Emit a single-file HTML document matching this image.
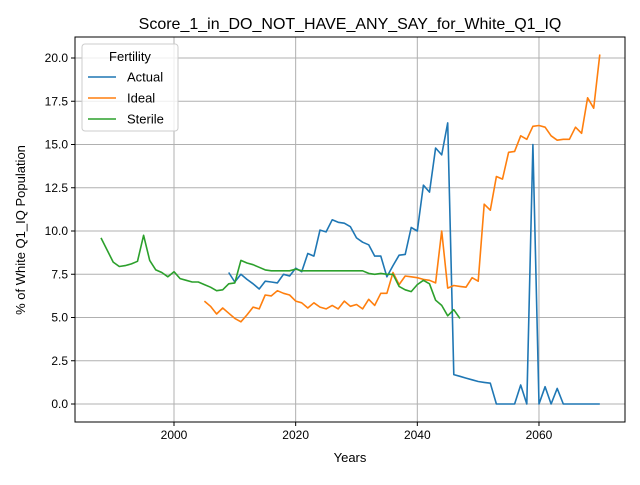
<!DOCTYPE html>
<html><head><meta charset="utf-8"><style>
body{margin:0;background:#fff;font-family:"Liberation Sans","DejaVu Sans",sans-serif}
</style></head><body>
<svg id="chart" width="640" height="480" xmlns="http://www.w3.org/2000/svg" font-family="Liberation Sans, DejaVu Sans, sans-serif"></svg>
<script>
const actualYears=[];for(let y=2009;y<=2070;y++)actualYears.push(y);
const actualValues=[7.6,7.05,7.5,7.2,6.95,6.65,7.1,7.05,7.0,7.5,7.4,7.85,7.65,8.7,8.55,10.05,9.95,10.65,10.5,10.45,10.25,9.6,9.35,9.2,8.55,8.55,7.35,8.0,8.6,8.65,10.2,10.0,12.65,12.25,14.8,14.4,16.25,1.7,1.6,1.5,1.4,1.3,1.25,1.2,0,0,0,0,1.1,0,15.0,0,1.0,0,0.9,0,0,0,0,0,0,0];
const idealYears=[];for(let y=2005;y<=2070;y++)idealYears.push(y);
const idealValues=[5.95,5.65,5.2,5.55,5.25,4.95,4.75,5.15,5.6,5.5,6.3,6.25,6.55,6.4,6.3,5.95,5.85,5.55,5.85,5.6,5.5,5.7,5.5,5.95,5.65,5.75,5.5,6.05,5.7,6.4,6.4,7.6,6.9,7.4,7.35,7.3,7.2,7.15,7.0,10.0,6.7,6.85,6.8,6.75,7.3,7.1,11.55,11.2,13.15,13.0,14.55,14.6,15.5,15.3,16.05,16.1,16.0,15.5,15.25,15.3,15.3,16.0,15.65,17.7,17.1,20.2];
const sterileYears=[];for(let y=1988;y<=2047;y++)sterileYears.push(y);
const sterileValues=[9.6,8.9,8.2,7.95,8.0,8.1,8.25,9.75,8.3,7.75,7.6,7.35,7.65,7.25,7.15,7.05,7.05,6.9,6.75,6.55,6.6,6.95,7.0,8.3,8.15,8.05,7.9,7.75,7.7,7.7,7.7,7.7,7.8,7.7,7.7,7.7,7.7,7.7,7.7,7.7,7.7,7.7,7.7,7.7,7.55,7.5,7.55,7.5,7.5,6.8,6.6,6.5,6.9,7.15,6.95,6.0,5.7,5.1,5.45,4.95];
const xTicks=[2000,2020,2040,2060];
const yTicks=[0,2.5,5,7.5,10,12.5,15,17.5,20];
const L=75,R=625,T=37,B=422;
const xs=v=>174+(v-2000)*6.083;
const ys=v=>404-v*17.3;
const svg=document.getElementById('chart');
const NS='http://www.w3.org/2000/svg';
function mk(tag,attrs,parent){const e=document.createElementNS(NS,tag);for(const k in attrs)e.setAttribute(k,attrs[k]);(parent||svg).appendChild(e);return e;}
const grid=mk('g',{});


xTicks.forEach(t=>{const x=xs(t);
mk('line',{x1:x,x2:x,y1:T,y2:B,stroke:'#b0b0b0','stroke-width':1},grid);
mk('line',{x1:x,x2:x,y1:B,y2:B+4,stroke:'#000'});
const tx=mk('text',{x:x,y:B+17,'text-anchor':'middle','font-size':12});tx.textContent=t;

});
yTicks.forEach(t=>{const y=ys(t);
mk('line',{x1:L,x2:R,y1:y,y2:y,stroke:'#b0b0b0','stroke-width':1},grid);
mk('line',{x1:L-4,x2:L,y1:y,y2:y,stroke:'#000'});
const tx=mk('text',{x:L-7,y:y+4,'text-anchor':'end','font-size':12});tx.textContent=t.toFixed(1);

});
function line(xsArr,vals,color,name){const d=xsArr.map((x,i)=>(i?'L':'M')+xs(x).toFixed(1)+','+ys(vals[i]).toFixed(1)).join('');
const p=mk('path',{d:d,fill:'none',stroke:color,'stroke-width':1.6,'stroke-linejoin':'round'});

}
line(actualYears,actualValues,'#1f77b4','actual-line');
line(idealYears,idealValues,'#ff7f0e','ideal-line');
line(sterileYears,sterileValues,'#2ca02c','sterile-line');
const frame=mk('rect',{x:L,y:T,width:R-L,height:B-T,fill:'none',stroke:'#000','stroke-width':1});


const title=mk('text',{x:350,y:29,'text-anchor':'middle','font-size':16});title.textContent='Score_1_in_DO_NOT_HAVE_ANY_SAY_for_White_Q1_IQ';


const xl=mk('text',{x:350,y:462,'text-anchor':'middle','font-size':13});xl.textContent='Years';


const yl=mk('text',{x:25,y:230,'text-anchor':'middle','font-size':13,transform:'rotate(-90 25 230)'});yl.textContent='% of White Q1_IQ Population';


const lg=mk('g',{});


mk('rect',{x:82,y:44,width:96,height:87,rx:3,fill:'#fff','fill-opacity':0.8,stroke:'#ccc'},lg);
const lt=mk('text',{x:130,y:61,'text-anchor':'middle','font-size':13},lg);lt.textContent='Fertility';
[['Actual','#1f77b4'],['Ideal','#ff7f0e'],['Sterile','#2ca02c']].forEach((s,i)=>{const y=77+i*21;
mk('line',{x1:88,x2:116,y1:y,y2:y,stroke:s[1],'stroke-width':1.6},lg);
const t=mk('text',{x:127,y:y+4.5,'font-size':13},lg);t.textContent=s[0];

});
</script>
</body></html>
